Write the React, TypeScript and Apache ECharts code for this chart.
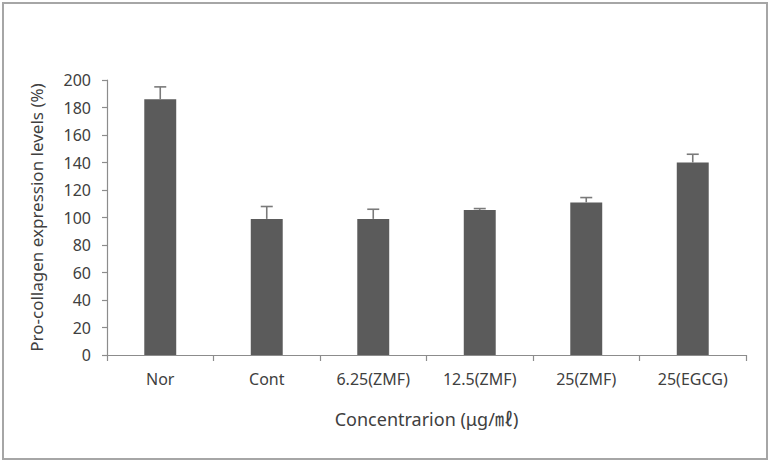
import React, { useEffect, useRef } from "react";
import * as echarts from "echarts";

// Groups on the x axis
const categories = ["Nor", "Cont", "6.25(ZMF)", "12.5(ZMF)", "25(ZMF)", "25(EGCG)"];
// Mean pro-collagen expression (%) per group
const means = [186, 99, 99, 105.5, 111, 140];
// Upper error (SD) per group
const errors = [9, 9, 7, 1, 3.5, 6];
// y-axis range
const yMin = 0;
const yMax = 200;
const yStep = 20;

const FONT = "'Noto Sans', 'Noto Sans CJK KR', sans-serif";
const TEXT = "#404040";
const AXIS = "#8c8c8c";
const BAR = "#5b5b5b";

export default function App() {
  const ref = useRef<HTMLDivElement>(null);

  useEffect(() => {
    if (!ref.current) return;
    const chart = echarts.init(ref.current, null, { renderer: "svg" });

    const errData = means.map((m, i) => [i, m, m + errors[i]]);

    chart.setOption({
      animation: false,
      backgroundColor: "#ffffff",
      graphic: [
        {
          type: "rect",
          shape: { x: 3, y: 3, width: 764, height: 456 },
          style: { fill: "none", stroke: "#a6a6a6", lineWidth: 2 },
          z: 0,
        },
      ],
      grid: { left: 107, right: 26, top: 80, bottom: 109 },
      xAxis: {
        type: "category",
        data: categories,
        boundaryGap: true,
        axisLine: { lineStyle: { color: AXIS, width: 1.2 } },
        axisTick: { show: true, length: 6, lineStyle: { color: AXIS, width: 1.2 } },
        axisLabel: { color: TEXT, fontFamily: FONT, fontSize: 16, margin: 16 },
        name: "Concentrarion (μg/㎖)",
        nameLocation: "middle",
        nameGap: 55,
        nameTextStyle: { color: TEXT, fontFamily: FONT, fontSize: 18 },
      },
      yAxis: {
        type: "value",
        min: yMin,
        max: yMax,
        interval: yStep,
        splitLine: { show: false },
        axisLine: { show: true, lineStyle: { color: AXIS, width: 1.2 } },
        axisTick: { show: true, length: 5, lineStyle: { color: AXIS, width: 1.2 } },
        axisLabel: { color: TEXT, fontFamily: FONT, fontSize: 16, margin: 16 },
        name: "Pro-collagen expression levels (%)",
        nameLocation: "middle",
        nameGap: 62,
        nameTextStyle: { color: TEXT, fontFamily: FONT, fontSize: 17 },
      },
      series: [
        {
          type: "bar",
          data: means,
          barWidth: "30%",
          itemStyle: { color: BAR },
          z: 2,
        },
        {
          type: "custom",
          data: errData,
          z: 3,
          renderItem: (params: any, api: any) => {
            const lo = api.coord([api.value(0), api.value(1)]);
            const hi = api.coord([api.value(0), api.value(2)]);
            const half = 6;
            const style = { stroke: "#7a7a7a", lineWidth: 1.6 };
            return {
              type: "group",
              children: [
                {
                  type: "line",
                  shape: { x1: lo[0], y1: lo[1], x2: hi[0], y2: hi[1] },
                  style,
                },
                {
                  type: "line",
                  shape: { x1: hi[0] - half, y1: hi[1], x2: hi[0] + half, y2: hi[1] },
                  style,
                },
              ],
            };
          },
        },
      ],
    });

    return () => chart.dispose();
  }, []);

  return (
    <div style={{ position: "fixed", left: 0, top: 0 }}>
      <div ref={ref} style={{ width: 772, height: 464 }} />
    </div>
  );
}
